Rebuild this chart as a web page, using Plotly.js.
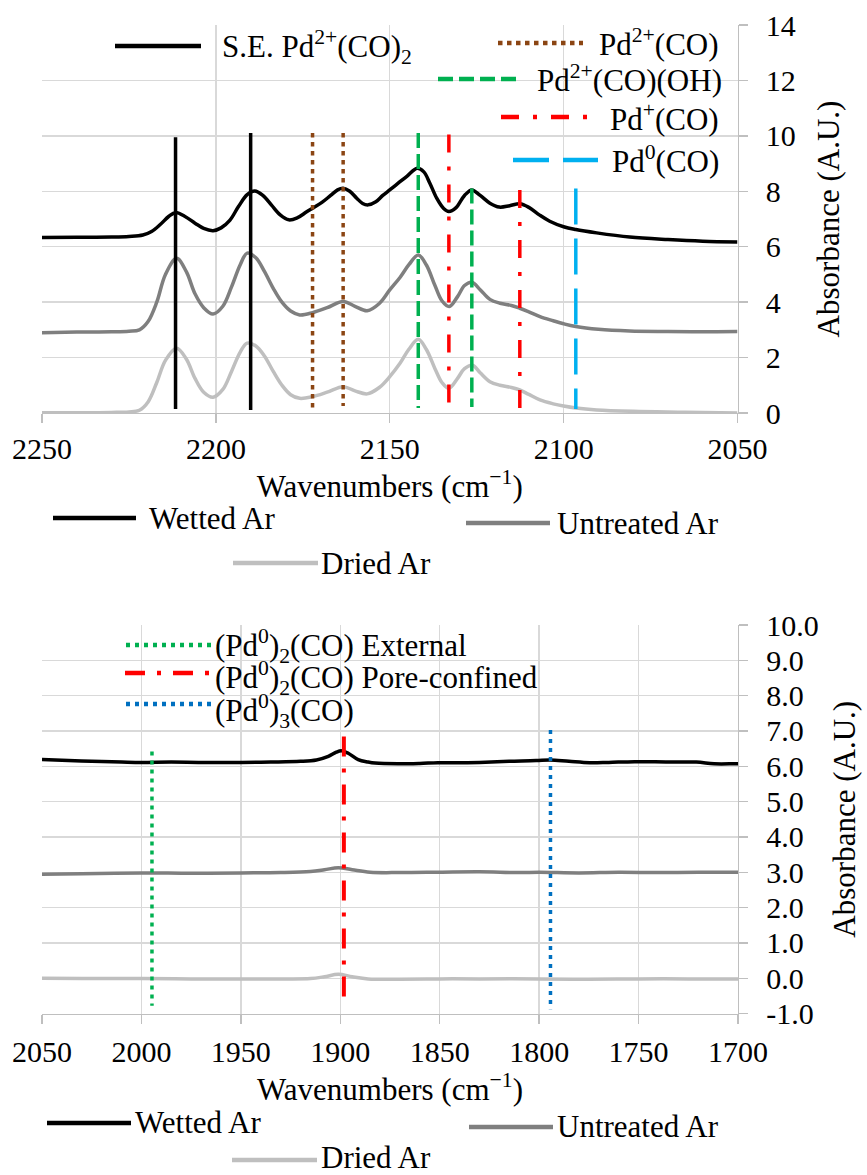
<!DOCTYPE html>
<html>
<head>
<meta charset="utf-8">
<script src="https://cdn.plot.ly/plotly-3.0.1.min.js"></script>
<style>
html,body{margin:0;padding:0;background:#ffffff;}
#chart{width:867px;height:1175px;}
</style>
</head>
<body>
<div id="chart"></div>
<script>
// ---------------- DATA ----------------
// Series names
const seriesNames = ['Wetted Ar', 'Untreated Ar', 'Dried Ar'];

// Top panel (2250-2050 cm-1) spectra
const topWetX = [2250, 2240, 2230, 2225, 2221, 2218.5, 2216, 2213.5, 2211.6, 2209, 2206, 2203.5, 2200.8, 2198.5, 2196, 2193.5, 2191, 2188.8, 2186.5, 2184, 2181.5, 2179, 2176.5, 2174, 2172.2, 2169.5, 2167, 2165, 2163.4, 2161.5, 2159.5, 2157.8, 2156.2, 2154, 2152, 2150, 2147.5, 2145, 2142.1, 2140.2, 2138.5, 2136.5, 2134.5, 2133, 2131, 2128.5, 2126.4, 2124, 2121.2, 2118.5, 2115.5, 2112.6, 2110, 2107, 2104, 2100, 2096.5, 2090.5, 2081, 2070, 2060, 2050];
const topWetY = [6.33, 6.34, 6.35, 6.37, 6.42, 6.55, 6.8, 7.1, 7.23, 7.1, 6.85, 6.66, 6.58, 6.68, 6.95, 7.45, 7.88, 8.01, 7.85, 7.5, 7.15, 6.97, 7.05, 7.25, 7.39, 7.6, 7.85, 8.05, 8.11, 8.0, 7.75, 7.56, 7.51, 7.62, 7.85, 8.05, 8.3, 8.55, 8.83, 8.7, 8.3, 7.75, 7.38, 7.27, 7.4, 7.85, 8.05, 7.85, 7.57, 7.43, 7.48, 7.55, 7.42, 7.15, 6.92, 6.72, 6.62, 6.5, 6.35, 6.26, 6.2, 6.17];

const topUntX = [2250, 2240, 2230, 2225, 2222, 2219.5, 2217, 2214.5, 2211.3, 2208.5, 2206, 2203.5, 2200.8, 2198, 2195.5, 2193, 2191, 2188.5, 2186, 2183.5, 2181, 2178.5, 2175.9, 2172.2, 2168, 2163.4, 2160, 2156.5, 2153, 2150, 2147, 2144.5, 2141.8, 2139.5, 2137, 2135, 2132.9, 2130.5, 2128.5, 2126.4, 2124, 2121.2, 2118.3, 2115, 2112.6, 2110, 2106.8, 2103, 2100, 2096.5, 2090, 2081, 2070, 2060, 2050];
const topUntY = [2.9, 2.92, 2.93, 2.95, 3.0, 3.3, 4.0, 5.0, 5.58, 5.1, 4.3, 3.8, 3.57, 3.85, 4.55, 5.35, 5.77, 5.6, 5.1, 4.5, 4.0, 3.68, 3.54, 3.62, 3.8, 4.02, 3.85, 3.69, 3.95, 4.44, 4.9, 5.35, 5.7, 5.35, 4.6, 4.05, 3.84, 4.2, 4.6, 4.72, 4.45, 4.1, 3.96, 3.88, 3.78, 3.65, 3.48, 3.33, 3.22, 3.12, 3.02, 2.96, 2.94, 2.93, 2.94];

const topDryX = [2250, 2240, 2230, 2225, 2222, 2219.5, 2217, 2214.5, 2211.3, 2208.5, 2206, 2203.5, 2200.8, 2198, 2195.5, 2193, 2191, 2188.5, 2186, 2183.5, 2181, 2178.5, 2175.9, 2172.2, 2168, 2163.4, 2160, 2156.5, 2153, 2150, 2147, 2144.5, 2141.8, 2139.5, 2137, 2135, 2133, 2130.5, 2128.5, 2126.2, 2124, 2121.2, 2118.3, 2115, 2112.6, 2110, 2106.8, 2103, 2100, 2096.5, 2090.5, 2080, 2065, 2050];
const topDryY = [0.01, 0.01, 0.02, 0.04, 0.1, 0.4, 1.1, 1.9, 2.34, 1.95, 1.25, 0.75, 0.57, 0.85, 1.5, 2.2, 2.52, 2.42, 2.05, 1.5, 1.0, 0.66, 0.53, 0.59, 0.75, 0.95, 0.8, 0.69, 0.92, 1.31, 1.8, 2.3, 2.66, 2.3, 1.6, 1.1, 0.89, 1.25, 1.6, 1.72, 1.45, 1.13, 1.0, 0.92, 0.83, 0.67, 0.47, 0.33, 0.25, 0.18, 0.11, 0.06, 0.03, 0.0];

// Bottom panel (2050-1700 cm-1) spectra
const botWetX = [2050, 2040, 2025, 2010, 2000, 1985, 1970, 1950, 1935, 1920, 1912, 1906, 1902, 1899.5, 1896, 1891, 1886, 1882.5, 1871, 1860, 1851, 1840, 1830, 1815, 1801.5, 1794.5, 1785, 1774.5, 1765, 1752, 1735, 1721, 1712, 1702, 1700];
const botWetY = [6.19, 6.17, 6.14, 6.12, 6.11, 6.12, 6.11, 6.11, 6.12, 6.14, 6.18, 6.28, 6.4, 6.44, 6.37, 6.19, 6.12, 6.09, 6.07, 6.08, 6.1, 6.1, 6.11, 6.14, 6.16, 6.18, 6.14, 6.1, 6.11, 6.13, 6.12, 6.12, 6.07, 6.07, 6.07];

const botUntX = [2050, 2030, 2000, 1975, 1950, 1930, 1915, 1908, 1901, 1894, 1885, 1870, 1850, 1830, 1810, 1800, 1780, 1760, 1740, 1720, 1700];
const botUntY = [2.94, 2.96, 2.98, 2.97, 2.98, 2.99, 3.02, 3.07, 3.13, 3.07, 3.0, 2.99, 3.0, 3.01, 2.99, 3.0, 2.98, 3.0, 2.99, 3.0, 3.0];

const botDryX = [2050, 2030, 2000, 1975, 1950, 1930, 1915, 1908, 1901, 1894, 1886, 1870, 1850, 1830, 1800, 1775, 1750, 1725, 1700];
const botDryY = [0.0, -0.01, -0.01, -0.02, -0.02, -0.02, -0.01, 0.04, 0.11, 0.04, -0.02, -0.03, -0.02, -0.02, -0.02, -0.03, -0.02, -0.02, -0.02];

// Reference band assignments, top panel
const topRefNames = ['S.E. Pd<sup>2+</sup>(CO)<sub>2</sub>', 'Pd<sup>2+</sup>(CO)', 'Pd<sup>2+</sup>(CO)(OH)', 'Pd<sup>+</sup>(CO)', 'Pd<sup>0</sup>(CO)'];
const sePos = [2211.6, 2190.0];      const seLow = [0.14, 0.11];      const seHigh = [9.95, 10.1];
const pd2Pos = [2172.2, 2163.4];     const pd2Low = [0.18, 0.25];     const pd2High = [10.1, 10.1];
const pd2ohPos = [2141.8, 2126.4];   const pd2ohLow = [0.18, 0.22];   const pd2ohHigh = [10.1, 8.1];
const pd1Pos = [2133.0, 2112.6];     const pd1Low = [0.18, 0.18];     const pd1High = [10.05, 8.05];
const pd0Pos = [2096.5];             const pd0Low = [0.14];           const pd0High = [8.1];

// Reference band assignments, bottom panel
const botRefNames = ['(Pd<sup>0</sup>)<sub>2</sub>(CO) External', '(Pd<sup>0</sup>)<sub>2</sub>(CO) Pore-confined', '(Pd<sup>0</sup>)<sub>3</sub>(CO)'];
const extPos = [1994.7];   const extLow = [-0.78];   const extHigh = [6.42];
const porePos = [1898.2];  const poreLow = [-0.85];  const poreHigh = [6.84];
const triPos = [1794.3];   const triLow = [-0.88];   const triHigh = [7.03];

// Axis ticks
const topXTicks = [2250, 2200, 2150, 2100, 2050];
const topYTicks = [0, 2, 4, 6, 8, 10, 12, 14];
const botXTicks = [2050, 2000, 1950, 1900, 1850, 1800, 1750, 1700];
const botYTicks = [-1, 0, 1, 2, 3, 4, 5, 6, 7, 8, 9, 10];
const botYTickText = ['-1.0', '0.0', '1.0', '2.0', '3.0', '4.0', '5.0', '6.0', '7.0', '8.0', '9.0', '10.0'];
const xTitle = 'Wavenumbers (cm<sup>−1</sup>)';
const yTitle = 'Absorbance (A.U.)';

// ---------------- STYLE / LAYOUT ----------------
const W = 867, H = 1175;
const px = v => v / W;
const py = v => 1 - v / H;

const C = {
  wet: '#000000', unt: '#7F7F7F', dry: '#BFBFBF',
  brown: '#8B4513', green: '#00B050', red: '#FF0000', sky: '#00B0F0', blue: '#0070C0',
  grid: '#D9D9D9', axis: '#BFBFBF'
};
const D = {
  brownDot: '4.5px,4.5px',
  greenDash: '15px,6px',
  redDashDot: '18px,14px,4px,14px',
  skyLong: '36px,14px',
  fineDot: '4px,5px',
  redDashDot2: '20px,12px,4px,12px'
};
const SERIES_W = 3.5, REF_W = 3.5;

function vlines(pos, lo, hi) {
  const x = [], y = [];
  pos.forEach((p, i) => {
    if (i > 0) { x.push(null); y.push(null); }
    x.push(p, p); y.push(hi[i], lo[i]);
  });
  return {x, y};
}

function spectrum(x, y, name, color, xa, ya) {
  return {type: 'scatter', mode: 'lines', x, y, name, xaxis: xa, yaxis: ya,
    line: {color, width: SERIES_W, shape: 'spline', smoothing: 1}, hoverinfo: 'x+y+name'};
}
function refTrace(v, name, color, dash, width, xa, ya) {
  return {type: 'scatter', mode: 'lines', x: v.x, y: v.y, name, xaxis: xa, yaxis: ya,
    line: {color, width, dash}, hoverinfo: 'x+name', connectgaps: false};
}

const traces = [
  spectrum(topWetX, topWetY, seriesNames[0], C.wet, 'x', 'y'),
  spectrum(topUntX, topUntY, seriesNames[1], C.unt, 'x', 'y'),
  spectrum(topDryX, topDryY, seriesNames[2], C.dry, 'x', 'y'),
  refTrace(vlines(sePos, seLow, seHigh), topRefNames[0], C.wet, 'solid', REF_W, 'x', 'y'),
  refTrace(vlines(pd2Pos, pd2Low, pd2High), topRefNames[1], C.brown, D.brownDot, REF_W, 'x', 'y'),
  refTrace(vlines(pd2ohPos, pd2ohLow, pd2ohHigh), topRefNames[2], C.green, D.greenDash, REF_W, 'x', 'y'),
  refTrace(vlines(pd1Pos, pd1Low, pd1High), topRefNames[3], C.red, D.redDashDot, REF_W, 'x', 'y'),
  refTrace(vlines(pd0Pos, pd0Low, pd0High), topRefNames[4], C.sky, D.skyLong, REF_W, 'x', 'y'),

  spectrum(botWetX, botWetY, seriesNames[0], C.wet, 'x2', 'y2'),
  spectrum(botUntX, botUntY, seriesNames[1], C.unt, 'x2', 'y2'),
  spectrum(botDryX, botDryY, seriesNames[2], C.dry, 'x2', 'y2'),
  refTrace(vlines(extPos, extLow, extHigh), botRefNames[0], C.green, D.fineDot, 3.5, 'x2', 'y2'),
  refTrace(vlines(porePos, poreLow, poreHigh), botRefNames[1], C.red, D.redDashDot2, 4, 'x2', 'y2'),
  refTrace(vlines(triPos, triLow, triHigh), botRefNames[2], C.blue, D.fineDot, 3.5, 'x2', 'y2')
];

const FONT = 'Liberation Serif';
const axisCommon = () => ({
  showgrid: true, gridcolor: C.grid, gridwidth: 1.3,
  showline: true, linecolor: C.axis, linewidth: 1.3,
  ticks: 'outside', ticklen: 9, tickwidth: 1.3, tickcolor: C.axis,
  zeroline: false, tickfont: {family: FONT, size: 30, color: '#000000'}, fixedrange: true
});

// Legend entries drawn Excel-style (long line keys + text)
const legendItems = [
  // top panel, band assignments
  {text: topRefNames[0], color: C.wet, dash: 'solid', x0: 115, x1: 201, ky: 46, tx: 221, ty: 47, anchor: 'left'},
  {text: topRefNames[1], color: C.brown, dash: D.brownDot, x0: 498, x1: 583, ky: 43, tx: 720, ty: 42, anchor: 'right'},
  {text: topRefNames[2], color: C.green, dash: D.greenDash, x0: 438, x1: 522, ky: 79, tx: 723, ty: 79, anchor: 'right'},
  {text: topRefNames[3], color: C.red, dash: D.redDashDot, x0: 501, x1: 588, ky: 117, tx: 720, ty: 117, anchor: 'right'},
  {text: topRefNames[4], color: C.sky, dash: D.skyLong, x0: 513, x1: 598, ky: 160, tx: 720, ty: 159, anchor: 'right'},
  // top panel, series
  {text: seriesNames[0], color: C.wet, dash: 'solid', x0: 53, x1: 136, ky: 518, tx: 148, ty: 518, anchor: 'left'},
  {text: seriesNames[1], color: C.unt, dash: 'solid', x0: 466, x1: 550, ky: 523, tx: 556, ty: 523, anchor: 'left'},
  {text: seriesNames[2], color: C.dry, dash: 'solid', x0: 233, x1: 318, ky: 563, tx: 320, ty: 563, anchor: 'left'},
  // bottom panel, band assignments
  {text: botRefNames[0], color: C.green, dash: D.fineDot, x0: 126, x1: 213, ky: 645, tx: 214, ty: 646, anchor: 'left'},
  {text: botRefNames[1], color: C.red, dash: D.redDashDot2, x0: 125, x1: 210, ky: 673, tx: 214, ty: 678, anchor: 'left'},
  {text: botRefNames[2], color: C.blue, dash: D.fineDot, x0: 126, x1: 212, ky: 704, tx: 214, ty: 711, anchor: 'left'},
  // bottom panel, series
  {text: seriesNames[0], color: C.wet, dash: 'solid', x0: 47, x1: 131, ky: 1123, tx: 134, ty: 1122, anchor: 'left'},
  {text: seriesNames[1], color: C.unt, dash: 'solid', x0: 469, x1: 553, ky: 1127, tx: 556, ty: 1126, anchor: 'left'},
  {text: seriesNames[2], color: C.dry, dash: 'solid', x0: 232, x1: 317, ky: 1160, tx: 320, ty: 1157, anchor: 'left'}
];

const shapes = legendItems.map(it => ({
  type: 'line', xref: 'paper', yref: 'paper',
  x0: px(it.x0), x1: px(it.x1), y0: py(it.ky), y1: py(it.ky),
  line: {color: it.color, width: 4.5, dash: it.dash}
}));
const annotations = legendItems.map(it => ({
  xref: 'paper', yref: 'paper', x: px(it.tx), y: py(it.ty),
  xanchor: it.anchor, yanchor: 'middle', showarrow: false, text: it.text,
  font: {family: FONT, size: 31, color: '#000000'}, borderpad: 0
}));

const layout = {
  width: W, height: H,
  margin: {l: 0, r: 0, t: 0, b: 0},
  paper_bgcolor: '#ffffff', plot_bgcolor: '#ffffff',
  font: {family: FONT, color: '#000000', size: 30},
  showlegend: false,
  xaxis: Object.assign(axisCommon(), {
    domain: [px(42), px(737.5)], range: [2250, 2050], anchor: 'y',
    tickvals: topXTicks, ticklabelstandoff: 0,
    title: {text: xTitle, font: {family: FONT, size: 31, color: '#000000'}, standoff: 4}
  }),
  yaxis: Object.assign(axisCommon(), {
    domain: [py(413), py(25)], range: [0, 14], anchor: 'x', side: 'right',
    tickvals: topYTicks, ticklabelstandoff: 12,
    title: {text: yTitle, font: {family: FONT, size: 31, color: '#000000'}, standoff: 22}
  }),
  xaxis2: Object.assign(axisCommon(), {
    domain: [px(42), px(738)], range: [2050, 1700], anchor: 'y2',
    tickvals: botXTicks, ticklabelstandoff: 2,
    title: {text: xTitle, font: {family: FONT, size: 31, color: '#000000'}, standoff: 8}
  }),
  yaxis2: Object.assign(axisCommon(), {
    domain: [py(1013.5), py(625)], range: [-1, 10], anchor: 'x2', side: 'right',
    tickvals: botYTicks, ticktext: botYTickText, ticklabelstandoff: 12,
    title: {text: yTitle, font: {family: FONT, size: 31, color: '#000000'}, standoff: 15}
  }),
  shapes, annotations
};

Plotly.newPlot('chart', traces, layout, {displayModeBar: false, staticPlot: true});
</script>
</body>
</html>
